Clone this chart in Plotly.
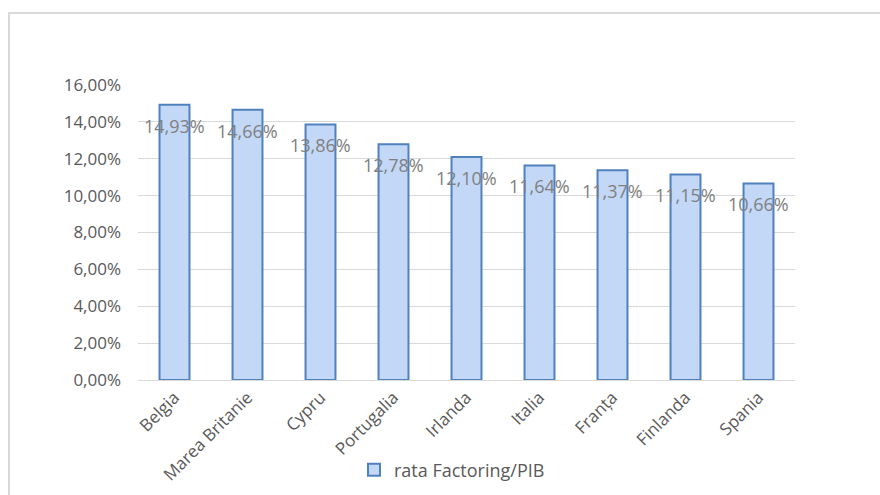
import plotly.graph_objects as go

countries = ["Belgia", "Marea Britanie", "Cypru", "Portugalia", "Irlanda",
             "Italia", "Franța", "Finlanda", "Spania"]
rate_pct = [14.93, 14.66, 13.86, 12.78, 12.10, 11.64, 11.37, 11.15, 10.66]
series_name = "rata Factoring/PIB"
y_ticks = [0, 0.02, 0.04, 0.06, 0.08, 0.10, 0.12, 0.14, 0.16]

values = [v / 100 for v in rate_pct]
labels = [f"{v:.2f}%".replace(".", ",") for v in rate_pct]

FONT = "Open Sans"
L, R, T, B = 138, 85, 85, 115
PW, PH = 880 - L - R, 495 - T - B

fig = go.Figure()
fig.add_trace(go.Bar(
    x=countries, y=values, name=series_name,
    marker=dict(color="#c3d7f7", line=dict(color="#4f81bd", width=2)),
    hoverinfo="skip",
))

for c, v, t in zip(countries, values, labels):
    fig.add_annotation(x=c, y=v, text=t, showarrow=False, yanchor="middle",
                       yshift=-21, font=dict(family=FONT, size=18, color="#808080"))

# outer chart border (left and top visible)
bx = (9 - L) / PW
by = (495 - B - 13) / PH
fig.add_shape(type="path", xref="paper", yref="paper",
              path=f"M {bx},-2 L {bx},{by} L 2,{by}",
              line=dict(color="#d9d9d9", width=2))

fig.update_layout(
    width=880, height=495,
    margin=dict(l=L, r=R, t=T, b=B, autoexpand=False),
    paper_bgcolor="white", plot_bgcolor="white",
    separators=", ",
    bargap=0.59,
    font=dict(family=FONT, color="#595959"),
    showlegend=True,
    legend=dict(orientation="h", x=(354 - L) / PW, xanchor="left",
                y=(495 - B - 470) / PH, yanchor="middle", itemwidth=30,
                font=dict(family=FONT, size=18, color="#595959")),
    xaxis=dict(tickangle=-45, tickfont=dict(family=FONT, size=17, color="#595959"),
               showline=True, linecolor="#d9d9d9", linewidth=1, ticks="",
               automargin=False),
    yaxis=dict(range=[0, 0.16], tickvals=y_ticks, tickformat=".2%",
               tickfont=dict(family=FONT, size=17, color="#595959"),
               showgrid=True, gridcolor="#d9d9d9", gridwidth=1, zeroline=False,
               ticklen=0, ticks="", ticklabelstandoff=16, automargin=False),
)

fig.write_html("out.html")
